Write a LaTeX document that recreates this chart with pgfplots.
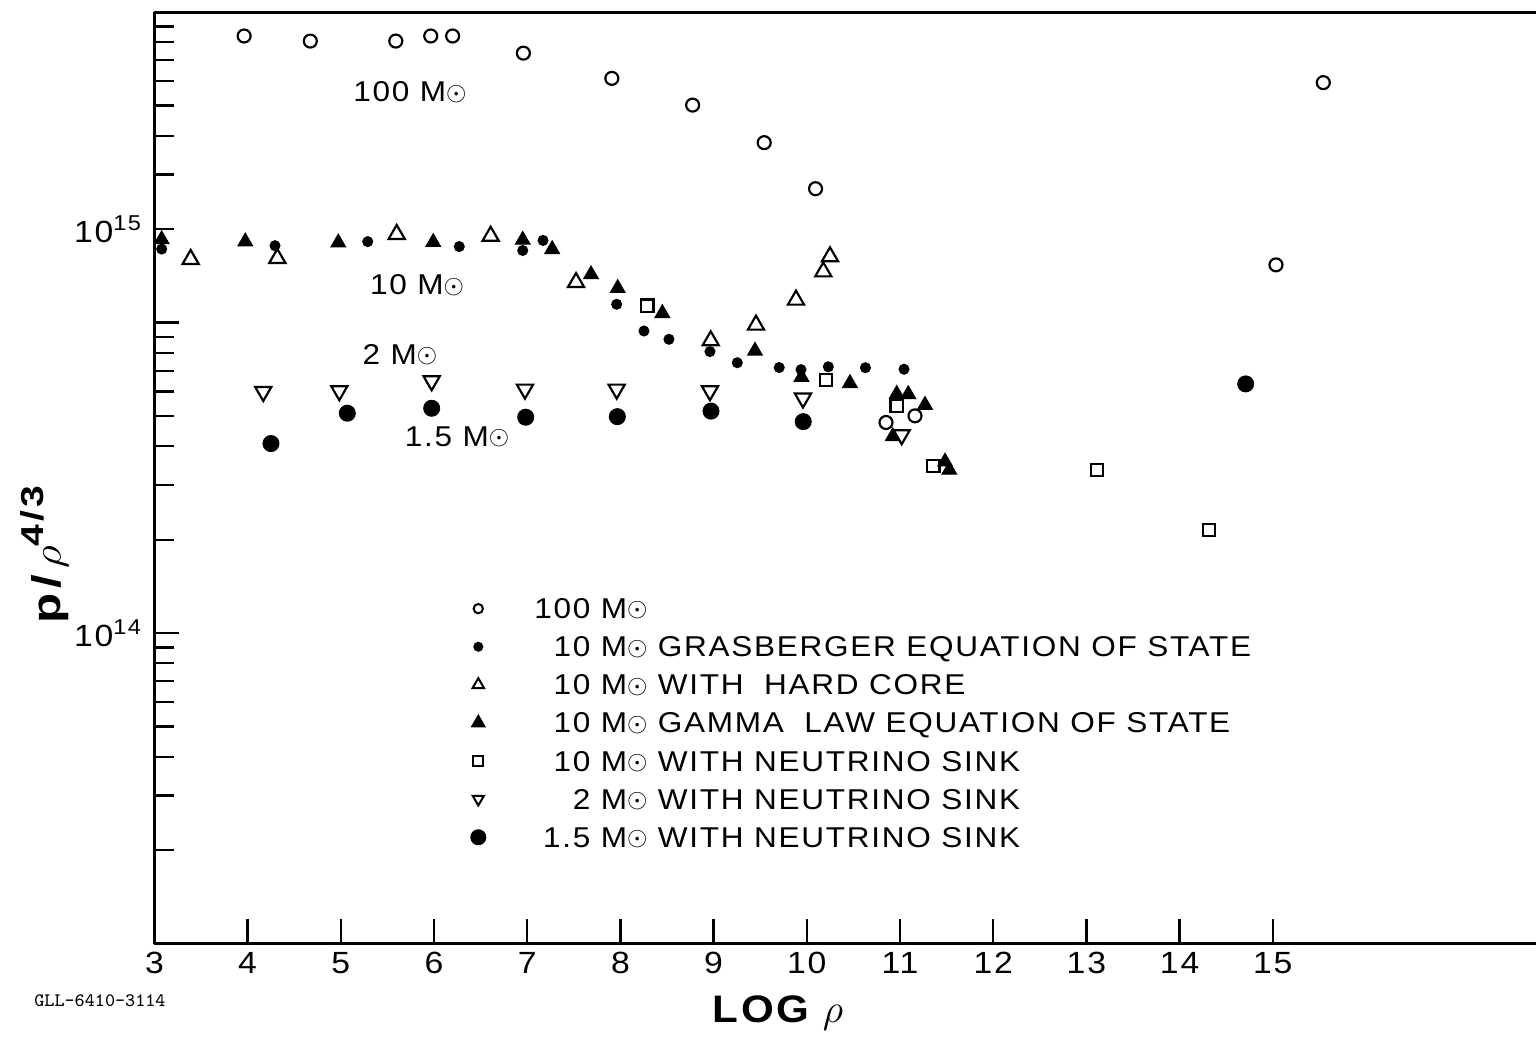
\documentclass[border=0pt]{standalone}
\usepackage{fontspec}
\setmainfont{Liberation Sans}[FakeStretch=1.1, LetterSpace=6]
\usepackage{pgfplots}
\pgfplotsset{compat=1.18}
\newcommand{\Msun}{M\raisebox{0.5pt}{\scalebox{0.85}{$\odot$}}}
\newcommand{\lett}{\fontsize{8.6}{10}\selectfont}
\newcommand{\lnum}[1]{\hphantom{100}\llap{#1}}
\begin{document}
\begin{tikzpicture}
\begin{axis}[
  scale only axis, width=414.48pt, height=279.45pt,
  xmin=3, xmax=17.824, ymode=log, ymin=1e13, ymax=1e16,
  axis x line*=bottom, axis y line*=left,
  axis line style={line width=0.9pt, black},
  clip=false, tick align=inside,
  xtick={3,4,...,15}, xticklabels={3,4,5,6,7,8,9,10,11,12,13,14,15},
  ytick={1e14,1e15}, yticklabels={10\textsuperscript{14},{}},
  minor ytick={2e13,3e13,4e13,5e13,6e13,7e13,8e13,9e13,2e14,3e14,4e14,5e14,6e14,7e14,8e14,9e14,2e15,3e15,4e15,5e15,6e15,7e15,8e15,9e15},
  extra y ticks={2e15}, extra y tick labels={10\textsuperscript{15}},
  extra y tick style={major tick length=6pt},
  major tick length=7.5pt, minor tick length=6pt,
  tick style={line width=0.7pt, black},
  ticklabel style={font=\fontsize{9.2}{10}\selectfont},
  xticklabel style={yshift=1pt},
  xlabel={LOG $\rho$},
  xlabel style={at={(axis description cs:0.4514,-0.0744)}, anchor=center, font=\fontsize{11.5}{12}\selectfont\bfseries},
  ylabel={\scalebox{1.12}[1]{p\hspace{1.5pt}/\hspace{1.5pt}$\rho$\raisebox{5pt}{\fontsize{9.5}{10}\selectfont 4\hspace{0.8pt}/\hspace{0.8pt}3}}},
  ylabel style={at={(axis description cs:-0.0792,0.4173)}, anchor=center, font=\fontsize{12}{13}\selectfont\bfseries},
  legend style={draw=none, fill=none, at={(0.2260,0.3808)}, anchor=north west, inner sep=0pt, row sep=0pt, column sep=0pt,
    nodes={inner xsep=2pt, inner ysep=2.715pt, text height=6pt, text depth=0pt, font=\lett}},
  legend cell align=left,
  legend image code/.code={\path (-3pt,0pt) (14.5pt,0pt); \draw[#1] plot coordinates {(0pt,0pt)};},
]
% 100 Msun
\addplot[only marks, mark=o, mark size=1.95pt, line width=0.65pt, black, forget plot] coordinates {
(3.963,8.38e15) (4.673,8.07e15) (5.590,8.07e15) (5.965,8.38e15) (6.200,8.38e15) (6.959,7.38e15) (7.908,6.12e15) (8.775,5.02e15) (9.543,3.80e15) (10.094,2.70e15) (10.850,4.77e14) (11.161,5.01e14) (15.034,1.535e15) (15.542,5.93e15)};
% 10 Msun Grasberger
\addplot[only marks, mark=*, mark size=1.45pt, black, forget plot] coordinates {
(3.078,1.726e15) (4.294,1.77e15) (5.289,1.824e15) (6.271,1.758e15) (6.952,1.708e15) (7.170,1.84e15) (7.960,1.146e15) (8.253,9.40e14) (8.521,8.84e14) (8.961,8.07e14) (9.254,7.43e14) (9.704,7.17e14) (9.938,7.06e14) (10.231,7.21e14) (10.629,7.16e14) (11.043,7.08e14)};
% 10 Msun hard core
\addplot[only marks, mark=triangle, mark size=2.8pt, line width=0.65pt, black, forget plot] coordinates {
(3.389,1.60e15) (4.319,1.612e15) (5.600,1.926e15) (6.608,1.90e15) (7.524,1.348e15) (8.969,8.75e14) (9.455,9.83e14) (9.884,1.183e15) (10.177,1.459e15) (10.249,1.632e15)};
% 10 Msun gamma law
\addplot[only marks, mark=triangle*, mark size=2.45pt, black, forget plot] coordinates {
(3.078,1.854e15) (3.975,1.824e15) (4.973,1.81e15) (5.992,1.816e15) (6.952,1.847e15) (7.268,1.723e15) (7.685,1.43e15) (7.971,1.291e15) (8.450,1.072e15) (9.444,8.11e14) (9.943,6.68e14) (10.463,6.38e14) (10.922,4.30e14) (10.965,5.89e14) (11.089,5.88e14) (11.268,5.43e14) (11.483,3.565e14) (11.529,3.355e14)};
% 10 Msun neutrino sink
\addplot[only marks, mark=square, mark size=1.85pt, line width=0.65pt, black, forget plot] coordinates {
(8.289,1.134e15) (10.206,6.54e14) (10.965,5.39e14) (11.357,3.455e14) (13.111,3.355e14) (14.315,2.15e14)};
% 2 Msun neutrino sink
\addplot[only marks, mark=triangle, mark size=2.8pt, line width=0.65pt, mark options={rotate=180}, black, forget plot] coordinates {
(4.168,5.995e14) (4.984,6.03e14) (5.975,6.49e14) (6.976,6.10e14) (7.960,6.10e14) (8.961,6.03e14) (9.959,5.71e14) (11.018,4.35e14)};
% 1.5 Msun neutrino sink
\addplot[only marks, mark=*, mark size=2.35pt, black, forget plot] coordinates {
(4.251,4.08e14) (5.070,5.11e14) (5.975,5.30e14) (6.984,4.96e14) (7.967,4.98e14) (8.972,5.19e14) (9.962,4.80e14) (14.709,6.35e14)};

\addlegendimage{mark=o, mark size=1.4pt, line width=0.6pt, black}
\addlegendentry{\lnum{100} \Msun}
\addlegendimage{mark=*, mark size=1.3pt, black}
\addlegendentry{\lnum{10} \Msun\ GRASBERGER EQUATION OF STATE}
\addlegendimage{mark=triangle, mark size=2pt, line width=0.6pt, black}
\addlegendentry{\lnum{10} \Msun\ WITH\hspace{3pt} HARD CORE}
\addlegendimage{mark=triangle*, mark size=2.3pt, black}
\addlegendentry{\lnum{10} \Msun\ GAMMA\hspace{3pt} LAW EQUATION OF STATE}
\addlegendimage{mark=square, mark size=1.5pt, line width=0.6pt, black}
\addlegendentry{\lnum{10} \Msun\ WITH NEUTRINO SINK}
\addlegendimage{mark=triangle, mark size=1.9pt, line width=0.6pt, mark options={rotate=180}, black}
\addlegendentry{\lnum{2} \Msun\ WITH NEUTRINO SINK}
\addlegendimage{mark=*, mark size=2.2pt, black}
\addlegendentry{\lnum{1.5} \Msun\ WITH NEUTRINO SINK}

\draw[line width=0.9pt] (rel axis cs:0,1) -- (rel axis cs:1,1);
\node[font=\lett] at (axis cs:5.742,5.53e15) {100 \Msun};
\node[font=\lett] at (axis cs:5.818,1.322e15) {10 \Msun};
\node[font=\lett] at (axis cs:5.635,7.87e14) {2 \Msun};
\node[font=\lett] at (axis cs:6.247,4.29e14) {1.5 \Msun};
\node[font=\fontsize{5.7}{6}\selectfont\ttfamily] at (axis description cs:-0.0394,-0.0615) {GLL-6410-3114};
\end{axis}
\pgfresetboundingbox
\useasboundingbox (-46.32pt,-27.69pt) rectangle (414.48pt,283.11pt);
\end{tikzpicture}
\end{document}
